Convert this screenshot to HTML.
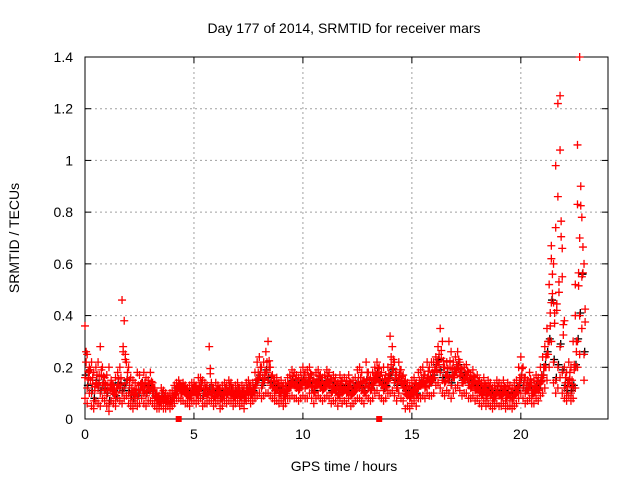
<!DOCTYPE html>
<html><head><meta charset="utf-8"><style>
html,body{margin:0;padding:0;background:#fff;}
svg{display:block;font-family:"Liberation Sans",sans-serif;}
</style></head><body>
<svg id="chart" width="640" height="480" viewBox="0 0 640 480">
<text x="344" y="33" font-size="14" text-anchor="middle" fill="#000">Day 177 of 2014, SRMTID for receiver mars</text>
<text x="344" y="471" font-size="14" text-anchor="middle" fill="#000">GPS time / hours</text>
<text transform="translate(19,238) rotate(-90)" font-size="14" text-anchor="middle" fill="#000">SRMTID / TECUs</text>
<g id="grid"></g>
<g id="axes"></g>
<g id="marks"></g>
</svg>
<script>
const xTicks=[0,5,10,15,20];
const yTicks=[0,0.2,0.4,0.6,0.8,1,1.2,1.4];
const yTickLabels=["0","0.2","0.4","0.6","0.8","1","1.2","1.4"];
const tStart=0, tStep=0.1;
const srmtidMid=[.16,.12,.18,.1,.07,.14,.12,.1,.13,.11,
.09,.06,.12,.1,.08,.13,.12,.1,.12,.14,
.1,.08,.07,.09,.08,.1,.13,.1,.09,.12,
.11,.1,.08,.07,.06,.08,.07,.06,.07,.06,
.07,.09,.11,.12,.1,.11,.1,.09,.08,.1,
.11,.09,.1,.12,.08,.1,.09,.11,.1,.08,
.09,.1,.07,.08,.1,.09,.11,.1,.08,.09,
.1,.08,.09,.07,.1,.11,.09,.1,.12,.14,
.16,.12,.14,.18,.15,.13,.12,.1,.11,.09,
.1,.08,.09,.11,.12,.14,.13,.12,.11,.13,
.14,.12,.13,.15,.12,.1,.13,.14,.12,.11,
.12,.14,.13,.1,.12,.11,.09,.12,.1,.11,
.1,.12,.09,.1,.11,.13,.12,.11,.1,.14,
.12,.11,.13,.15,.17,.14,.13,.11,.12,.15,
.16,.18,.14,.12,.16,.14,.12,.1,.09,.08,
.1,.11,.09,.12,.13,.14,.12,.15,.13,.14,
.16,.2,.22,.18,.15,.14,.17,.15,.13,.16,
.18,.2,.17,.14,.15,.16,.13,.12,.14,.11,
.12,.1,.09,.11,.08,.1,.09,.07,.08,.1,
.09,.08,.1,.07,.09,.08,.07,.09,.1,.12,
.15,.12,.1,.11,.13,.09,.1,.12,.11,.14,
.16,.2,.25,.3,.45,.22,.15,.2,.28,.18,
.12,.1,.14,.1,.12,.2,.3,.4,.55,.25];
const srmtidHigh=[.36,.25,.2,.22,.18,.2,.22,.28,.2,.16,
.17,.2,.15,.13,.16,.18,.2,.46,.38,.22,
.2,.16,.15,.14,.18,.17,.14,.18,.16,.15,
.18,.14,.12,.1,.09,.12,.11,.1,.09,.1,
.11,.13,.14,.15,.13,.14,.13,.12,.13,.14,
.14,.13,.16,.16,.15,.14,.13,.28,.14,.12,
.14,.13,.12,.13,.14,.13,.15,.14,.12,.13,
.14,.12,.13,.12,.14,.15,.13,.14,.18,.22,
.24,.2,.22,.26,.3,.2,.17,.15,.16,.14,
.15,.13,.14,.16,.17,.19,.18,.17,.16,.18,
.2,.18,.19,.2,.17,.15,.18,.19,.17,.16,
.17,.19,.18,.15,.17,.16,.14,.17,.15,.16,
.15,.17,.14,.15,.16,.19,.2,.18,.15,.22,
.18,.16,.18,.2,.22,.2,.18,.2,.17,.2,
.32,.28,.22,.17,.22,.19,.17,.15,.14,.13,
.15,.16,.14,.18,.19,.2,.17,.22,.2,.22,
.22,.24,.28,.35,.3,.2,.22,.3,.26,.22,
.24,.26,.22,.19,.2,.21,.18,.17,.19,.16,
.17,.15,.14,.16,.13,.15,.14,.12,.13,.15,
.14,.13,.15,.12,.14,.13,.12,.14,.15,.2,
.24,.2,.16,.15,.18,.14,.15,.17,.16,.2,
.24,.28,.35,.52,.67,.6,.74,.86,1.25,.55,
.2,.18,.22,.2,.3,.4,.83,1.4,.78,.6];
const srmtidLow=[.08,.06,.1,.05,.04,.07,.06,.05,.08,.07,
.05,.03,.07,.06,.05,.08,.07,.06,.08,.09,
.06,.05,.04,.06,.05,.06,.08,.06,.05,.07,
.07,.06,.05,.04,.04,.05,.04,.04,.05,.04,
.05,.06,.08,.08,.07,.07,.06,.06,.05,.07,
.07,.06,.07,.08,.05,.06,.06,.07,.07,.05,
.06,.07,.04,.05,.07,.06,.07,.07,.05,.06,
.07,.05,.06,.04,.07,.08,.06,.07,.08,.09,
.1,.08,.09,.1,.1,.09,.08,.07,.07,.06,
.07,.05,.06,.08,.08,.09,.08,.08,.07,.08,
.09,.08,.08,.1,.08,.06,.08,.09,.08,.07,
.08,.09,.08,.06,.07,.07,.05,.08,.06,.07,
.06,.08,.05,.06,.07,.08,.08,.07,.06,.09,
.08,.07,.08,.1,.11,.09,.08,.07,.08,.1,
.1,.11,.09,.07,.1,.08,.07,.04,.05,.04,
.06,.07,.05,.08,.08,.09,.08,.1,.09,.09,
.1,.13,.14,.12,.1,.09,.11,.1,.08,.1,
.12,.13,.11,.09,.1,.1,.08,.08,.09,.07,
.08,.06,.05,.07,.05,.06,.05,.04,.05,.06,
.05,.05,.06,.04,.05,.05,.04,.05,.06,.08,
.1,.08,.06,.07,.08,.06,.06,.08,.07,.09,
.1,.12,.15,.2,.3,.14,.1,.12,.16,.1,
.08,.07,.09,.07,.08,.12,.2,.25,.35,.15];
const stormTimes=[21.4,21.5,21.6,21.7,21.8,21.9,22.0,22.5,22.6,22.7];
const stormValues=[0.62,0.45,0.98,1.22,1.04,0.66,0.38,0.52,1.06,0.7];
const gapTimes=[4.3,13.5];
const gapValues=[0,0];

const L=85,R=608,T=57,B=419,X0=0,X1=24,Y0=0,Y1=1.4;
const sx=v=>L+(v-X0)/(X1-X0)*(R-L);
const sy=v=>B-(v-Y0)/(Y1-Y0)*(B-T);
const NS="http://www.w3.org/2000/svg";
function mk(tag,attrs,parent){const e=document.createElementNS(NS,tag);for(const k in attrs)e.setAttribute(k,attrs[k]);parent.appendChild(e);return e;}
const grid=document.getElementById('grid'),axes=document.getElementById('axes'),marks=document.getElementById('marks');
xTicks.forEach(t=>{const x=sx(t);
 if(t>X0){const g=mk('line',{x1:x,x2:x,y1:T,y2:B,stroke:'#a0a0a0','stroke-dasharray':'2,3','stroke-width':1},grid);
 
 }
 mk('line',{x1:x,x2:x,y1:B,y2:B-6,stroke:'#000'},axes);
 mk('line',{x1:x,x2:x,y1:T,y2:T+6,stroke:'#000'},axes);
 const tx=mk('text',{x:x,y:B+20,'font-size':14,'text-anchor':'middle'},axes);tx.textContent=t;
 
 
});
yTicks.forEach((t,i)=>{const y=sy(t);
 if(t>Y0&&t<Y1){const g=mk('line',{x1:L,x2:R,y1:y,y2:y,stroke:'#a0a0a0','stroke-dasharray':'2,3','stroke-width':1},grid);
 
 }
 mk('line',{x1:L,x2:L+6,y1:y,y2:y,stroke:'#000'},axes);
 mk('line',{x1:R,x2:R-6,y1:y,y2:y,stroke:'#000'},axes);
 const tx=mk('text',{x:L-12,y:y+5,'font-size':14,'text-anchor':'end'},axes);tx.textContent=yTickLabels[i];
 
 
});
const fr=mk('rect',{x:L,y:T,width:R-L,height:B-T,fill:'none',stroke:'#000','stroke-width':1},axes);


function plus(t,v,color){const x=sx(t),y=sy(v);
 const p=mk('path',{d:`M${x-4},${y}h8M${x},${y-4}v8`,stroke:color,'stroke-width':1.3,fill:'none'},marks);
 
 }
srmtidMid.forEach((v,i)=>plus(tStart+i*tStep+0.03,v+0.01,'#000'));
[srmtidMid,srmtidHigh,srmtidLow].forEach(arr=>arr.forEach((v,i)=>plus(tStart+i*tStep,v,'#f00')));
[srmtidMid,srmtidLow].forEach(arr=>arr.forEach((v,i)=>plus(tStart+i*tStep+0.05,(v+srmtidHigh[i])/2,'#f00')));
stormTimes.forEach((t,i)=>plus(t,stormValues[i],'#f00'));
gapTimes.forEach((t,i)=>{const r=mk('rect',{x:sx(t)-3,y:sy(gapValues[i])-3,width:6,height:6,fill:'#f00'},marks);
 
 });
</script>
</body></html>
